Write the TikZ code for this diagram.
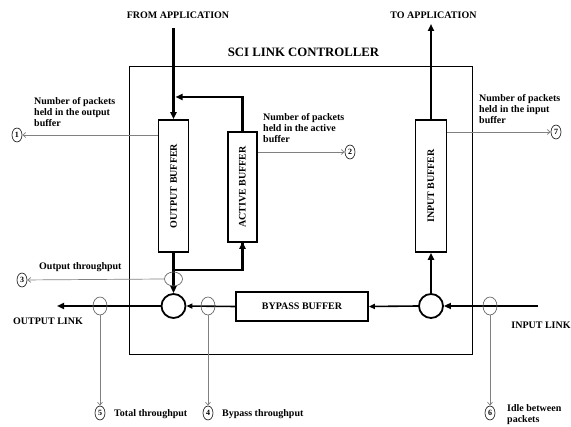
\documentclass[tikz,border=0pt]{standalone}
\usepackage{fontspec}
\setmainfont{Liberation Serif}
\usetikzlibrary{arrows.meta,shapes.geometric}
\begin{document}
\begin{tikzpicture}[x=1pt,y=-1pt,
  font=\fontsize{10}{11}\selectfont\bfseries,
  buf/.style={draw,line width=1.6pt,inner sep=0pt},
  thickarrow/.style={line width=2.4pt,-{Triangle[length=7pt,width=6pt]}},
  medarrow/.style={line width=1.6pt,-{Triangle[length=6pt,width=5pt]}},
  thickline/.style={line width=2.4pt},
  meas/.style={draw=gray,line width=0.7pt,-{Straight Barb[length=3pt,width=5pt]}},
  tap/.style={draw=gray!80!black,line width=0.7pt,ellipse,inner sep=0pt},
  num/.style={draw,line width=0.6pt,ellipse,inner sep=0pt,minimum width=10pt,minimum height=14pt,font=\fontsize{8}{9}\selectfont\bfseries},
  lbl/.style={align=left,inner sep=0pt}]
\useasboundingbox (0,0) rectangle (571,427);

% outer controller box
\node[draw,line width=0.8pt,minimum width=343.5pt,minimum height=287.5pt,inner sep=0pt] (ctrl) at (300.75,210.25) {};
\node[font=\fontsize{12.8}{14}\selectfont\bfseries] (title) at (303.5,52) {SCI LINK CONTROLLER};

% top labels
\node (fromapp) at (178,15) {FROM APPLICATION};
\node (toapp) at (433.5,15) {TO APPLICATION};
\coordinate (fromtop) at (173.5,28);
\coordinate (totop) at (431,24);

% buffers
\node[buf,minimum width=30pt,minimum height=132pt] (ob) at (173.5,186) {\rotatebox{90}{OUTPUT BUFFER}};
\node[buf,minimum width=29pt,minimum height=110pt] (ab) at (242.5,187) {\rotatebox{90}{ACTIVE BUFFER}};
\node[buf,minimum width=31pt,minimum height=132pt] (ib) at (431,186) {\rotatebox{90}{INPUT BUFFER}};
\node[buf,minimum width=132pt,minimum height=29pt] (bb) at (302,306.5) {BYPASS BUFFER};

% junction circles
\node[draw,circle,line width=1.8pt,minimum size=24pt,inner sep=0pt] (merge) at (173.5,306) {};
\node[draw,circle,line width=1.8pt,minimum size=24pt,inner sep=0pt] (split) at (431,306) {};

% link labels
\node (outlink) at (48,321) {OUTPUT LINK};
\node (inlink) at (541,325) {INPUT LINK};
\coordinate (outend) at (57,306);
\coordinate (inend) at (538,306);

% junction coordinates
\coordinate (j1) at (175.5,97);
\coordinate (j2) at (173.5,270);

% thick flows
\draw[thickarrow] (fromtop) -- (ob.north);
\draw[thickarrow] (ab.north) |- (j1);
\draw[thickarrow] (ob.south) -- (merge.north);
\draw[thickline] (j2) -| (ab.south);
\draw[thickarrow] (j2) -| ([yshift=1pt]ab.south);
\draw[thickarrow] (merge.west) -- (outend);
\draw[medarrow] (bb.west) -- (merge.east);
\draw[medarrow] (split.west) -- (bb.east);
\draw[thickarrow] (inend) -- (split.east);
\draw[thickarrow] (split.north) -- (ib.south);
\draw[thickarrow] (ib.north) -- (totop);

% measurement taps
\node[tap,minimum width=18pt,minimum height=14pt] (tapot) at (173.5,279) {};
\node[tap,minimum width=14pt,minimum height=18pt] (tapol) at (100,306) {};
\node[tap,minimum width=14pt,minimum height=18pt] (tapbp) at (208,306) {};
\node[tap,minimum width=14pt,minimum height=18pt] (tapil) at (490,306) {};

% numbered result circles
\node[num] (n1) at (17,135) {1};
\node[num] (n2) at (350,152) {2};
\node[num] (n3) at (22,280) {3};
\node[num] (n4) at (208,413) {4};
\node[num] (n5) at (100,413) {5};
\node[num] (n6) at (490,413) {6};
\node[num] (n7) at (556,132) {7};

% measurement lines
\draw[meas] (ob.west |- n1) -- (n1);
\draw[meas] (ab.east |- n2) -- (n2);
\draw[meas] (ib.east |- n7) -- (n7);
\draw[meas] (tapot.west) -- (n3);
\draw[meas] (tapol.south) -- (n5);
\draw[meas] (tapbp.south) -- (n4);
\draw[meas] (tapil.south) -- (n6);

% measurement labels
\node[lbl,anchor=north west] (l1) at (34,97) {Number of packets\\held in the output\\buffer};
\node[lbl,anchor=north west] (l2) at (263,113) {Number of packets\\held in the active\\buffer};
\node[lbl,anchor=north west] (l7) at (479,94) {Number of packets\\held in the input\\buffer};
\node[lbl,anchor=west] (l3) at (39,267) {Output throughput};
\node[lbl,anchor=west] (l5) at (114,414) {Total throughput};
\node[lbl,anchor=west] (l4) at (222,414) {Bypass throughput};
\node[lbl,anchor=north west] (l6) at (507,404) {Idle between\\packets};
\end{tikzpicture}
\end{document}
